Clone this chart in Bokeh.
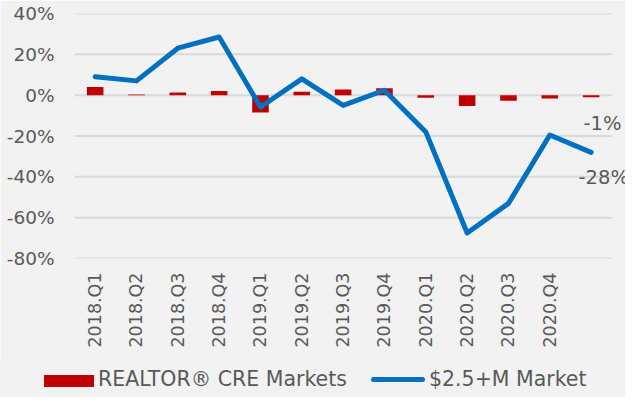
from bokeh.plotting import figure
from bokeh.layouts import column
from bokeh.models import (Range1d, FixedTicker, NumeralTickFormatter, Label, Div)
from bokeh.embed import file_html
from bokeh.resources import INLINE
import math

quarters = ["2018.Q1", "2018.Q2", "2018.Q3", "2018.Q4",
            "2019.Q1", "2019.Q2", "2019.Q3", "2019.Q4",
            "2020.Q1", "2020.Q2", "2020.Q3", "2020.Q4", ""]
cre_markets = [0.040, 0.003, 0.013, 0.020, -0.085, 0.017, 0.028, 0.034,
               -0.013, -0.053, -0.027, -0.016, -0.010]
luxury_market = [0.090, 0.070, 0.230, 0.285, -0.058, 0.080, -0.050, 0.024,
                 -0.180, -0.675, -0.530, -0.195, -0.280]
y_ticks = [-0.8, -0.6, -0.4, -0.2, 0.0, 0.2, 0.4]
series_names = ["REALTOR® CRE Markets", "$2.5+M Market"]
last_labels = ["-1%", "-28%"]

FONT = "DejaVu Sans"
GREY = "#595959"
BG = "#F2F2F2"
RED = "#C00000"
BLUE = "#0070C0"
W = 625

x = list(range(len(quarters)))
x_start = -0.5
x_end = x_start + len(quarters) * 551 / 537.3   # frame runs a little past the last slot

# ---------------- main chart ----------------
p = figure(width=W, height=360, output_backend="svg", toolbar_location=None,
           x_range=Range1d(x_start, x_end),
           y_range=Range1d(y_ticks[0], y_ticks[-1]),
           min_border_left=74, min_border_right=0, min_border_top=13,
           min_border_bottom=102)
p.background_fill_color = BG
p.border_fill_color = BG
p.outline_line_color = None

# horizontal gridlines that stop at the last category slot
p.segment(x0=[x_start] * len(y_ticks), x1=[len(quarters) - 0.5] * len(y_ticks),
          y0=y_ticks, y1=y_ticks, line_color="#D9D9D9", line_width=2)

bars = p.vbar(x=x, top=cre_markets, bottom=0, width=0.4,
              fill_color=RED, line_color=None)
line = p.line(x=x, y=luxury_market, line_width=5, line_color=BLUE,
              line_join="round", line_cap="round")

p.xaxis.ticker = FixedTicker(ticks=[i for i, q in enumerate(quarters) if q])
p.xaxis.major_label_overrides = {i: q for i, q in enumerate(quarters) if q}
p.xaxis.major_label_orientation = math.pi / 2
p.xaxis.major_label_standoff = 14
p.xaxis.major_label_text_font = FONT
p.xaxis.major_label_text_font_size = "17.5px"
p.xaxis.major_label_text_color = GREY
p.xaxis.axis_line_color = None
p.xaxis.major_tick_line_color = None
p.xaxis.minor_tick_line_color = None
p.xaxis.major_tick_out = 0

p.yaxis.ticker = FixedTicker(ticks=y_ticks)
p.yaxis.formatter = NumeralTickFormatter(format="0%")
p.yaxis.major_label_standoff = 20
p.yaxis.major_label_text_font = FONT
p.yaxis.major_label_text_font_size = "18.5px"
p.yaxis.major_label_text_color = GREY
p.yaxis.axis_line_color = None
p.yaxis.major_tick_line_color = None
p.yaxis.minor_tick_line_color = None
p.yaxis.major_tick_out = 0

p.grid.visible = False

n = len(quarters) - 1
p.add_layout(Label(x=x[n], y=cre_markets[n], text=last_labels[0],
                   x_offset=-7.6, y_offset=-26, text_align="left",
                   text_baseline="middle", text_font=FONT,
                   text_font_size="19.5px", text_color=GREY))
p.add_layout(Label(x=x[n], y=luxury_market[n], text=last_labels[1],
                   x_offset=-12.6, y_offset=-25, text_align="left",
                   text_baseline="middle", text_font=FONT,
                   text_font_size="19.5px", text_color=GREY))

# ---------------- legend strip ----------------
legend_html = (
    f'<div style="position:relative;width:{W}px;height:37px;background:{BG};'
    f'font-family:\'{FONT}\';font-size:20.5px;color:{GREY};white-space:nowrap;">'
    f'<span style="position:absolute;left:44px;top:15px;width:50px;height:12px;'
    f'background:{RED};"></span>'
    f'<span style="position:absolute;left:98px;top:7px;line-height:24px;">'
    f'{series_names[0]}</span>'
    f'<span style="position:absolute;left:371px;top:17px;width:54px;height:5px;'
    f'border-radius:2.5px;background:{BLUE};"></span>'
    f'<span style="position:absolute;left:429px;top:7px;line-height:24px;">'
    f'{series_names[1]}</span>'
    f'</div>'
)
legend_strip = Div(text=legend_html, width=W, height=37,
                   styles={"background-color": BG, "margin": "0", "padding": "0"})

layout = column(p, legend_strip, spacing=0)
open("out.html", "w").write(file_html(layout, INLINE))
